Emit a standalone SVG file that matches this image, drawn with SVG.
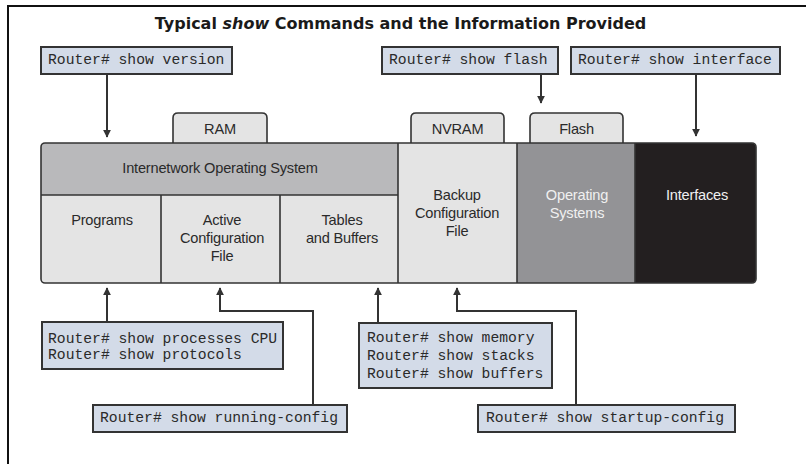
<svg xmlns="http://www.w3.org/2000/svg" width="806" height="464" viewBox="0 0 806 464">
  <style>
    .frame { fill: none; stroke: #111; stroke-width: 2; }
    .title { font-family: "DejaVu Sans", "Liberation Sans", Arial, sans-serif; font-weight: bold; font-size: 16px; fill: #1a1a1a; }
    .cmd { fill: #d3dbe8; stroke: #333; stroke-width: 2; }
    .mono { font-family: "Liberation Mono", "Courier New", monospace; font-size: 14.7px; fill: #2a2a2a; }
    .tab { fill: #e4e4e4; stroke: #333; stroke-width: 1.6; }
    .lbl { font-family: "Liberation Sans", Arial, sans-serif; font-size: 14.6px; fill: #2a2a2a; text-anchor: middle; letter-spacing: -0.2px; }
    .lbl-w { font-family: "Liberation Sans", Arial, sans-serif; font-size: 14.6px; fill: #f0f0f0; text-anchor: middle; letter-spacing: -0.2px; }
    .cell-light { fill: #e4e4e4; }
    .cell-mid { fill: #b9b9bb; }
    .cell-dark { fill: #939396; }
    .cell-black { fill: #231f20; }
    .div { stroke: #333; stroke-width: 1.6; fill: none; }
    .conn { fill: none; stroke: #333; stroke-width: 2; }
  </style>
  <defs>
    <marker id="arrow" viewBox="0 0 10 10" refX="9" refY="5" markerWidth="4" markerHeight="4" orient="auto">
      <path d="M0,0 L10,5 L0,10 Z" fill="#333"/>
    </marker>
  </defs>

  <rect x="0" y="0" width="806" height="464" fill="#ffffff"/>
  <!-- page frame: top and left rules only -->
  <path class="frame" d="M8,464 L8,6 L806,6"/>

  <text class="title" x="400.5" y="29" text-anchor="middle">Typical <tspan font-style="italic">show</tspan> Commands and the Information Provided</text>

  <!-- memory tabs -->
  <g id="tab-ram">
    <path class="tab" d="M173,144 L173,118 Q173,113 178,113 L262,113 Q267,113 267,118 L267,144"/>
    <text class="lbl" x="220" y="134">RAM</text>
  </g>
  <g id="tab-nvram">
    <path class="tab" d="M411,144 L411,118 Q411,113 416,113 L499,113 Q504,113 504,118 L504,144"/>
    <text class="lbl" x="457.5" y="134">NVRAM</text>
  </g>
  <g id="tab-flash">
    <path class="tab" d="M530,144 L530,118 Q530,113 535,113 L618,113 Q623,113 623,118 L623,144"/>
    <text class="lbl" x="576.5" y="134">Flash</text>
  </g>

  <!-- router memory block -->
  <g id="ios">
    <path class="cell-mid" d="M41,147 Q41,143 45,143 L398,143 L398,195 L41,195 Z"/>
    <text class="lbl" x="220" y="173">Internetwork Operating System</text>
  </g>
  <g id="programs">
    <path class="cell-light" d="M41,195 L161,195 L161,283 L45,283 Q41,283 41,279 Z"/>
    <text class="lbl" x="102" y="225">Programs</text>
  </g>
  <g id="active-config">
    <rect class="cell-light" x="161" y="195" width="119" height="88"/>
    <text class="lbl" x="222" y="225">Active</text>
    <text class="lbl" x="222" y="243">Configuration</text>
    <text class="lbl" x="222" y="261">File</text>
  </g>
  <g id="tables-buffers">
    <rect class="cell-light" x="280" y="195" width="118" height="88"/>
    <text class="lbl" x="342" y="225">Tables</text>
    <text class="lbl" x="342" y="243">and Buffers</text>
  </g>
  <g id="backup-config">
    <rect class="cell-light" x="398" y="143" width="119" height="140" fill="#e8e8e8"/>
    <text class="lbl" x="457" y="200">Backup</text>
    <text class="lbl" x="457" y="218">Configuration</text>
    <text class="lbl" x="457" y="236">File</text>
  </g>
  <g id="operating-systems">
    <rect class="cell-dark" x="517" y="143" width="118" height="140"/>
    <text class="lbl-w" x="577" y="200">Operating</text>
    <text class="lbl-w" x="577" y="218">Systems</text>
  </g>
  <g id="interfaces">
    <path class="cell-black" d="M635,143 L751,143 Q756,143 756,148 L756,278 Q756,283 751,283 L635,283 Z"/>
    <text class="lbl-w" x="697" y="200">Interfaces</text>
  </g>
  <!-- block outline and cell dividers -->
  <g id="block-lines">
    <rect class="div" x="41" y="143" width="715" height="140" rx="4" ry="4"/>
    <path class="div" d="M41,195 L398,195 M161,195 L161,283 M280,195 L280,283 M398,143 L398,283 M517,143 L517,283 M635,143 L635,283"/>
  </g>

  <!-- command boxes -->
  <g id="cmd-version">
    <rect class="cmd" x="41" y="47" width="191" height="27"/>
    <text class="mono" x="48" y="64">Router# show version</text>
  </g>
  <g id="cmd-flash">
    <rect class="cmd" x="382" y="47" width="176" height="27"/>
    <text class="mono" x="389" y="64">Router# show flash</text>
  </g>
  <g id="cmd-interface">
    <rect class="cmd" x="571" y="47" width="209" height="27"/>
    <text class="mono" x="578" y="64">Router# show interface</text>
  </g>
  <g id="cmd-processes">
    <rect class="cmd" x="42" y="322" width="241" height="47"/>
    <text class="mono" x="48" y="343">Router# show processes CPU</text>
    <text class="mono" x="48" y="359">Router# show protocols</text>
  </g>
  <g id="cmd-running">
    <rect class="cmd" x="93" y="405" width="254" height="27"/>
    <text class="mono" x="100" y="422">Router# show running-config</text>
  </g>
  <g id="cmd-memory">
    <rect class="cmd" x="359" y="323" width="193" height="65"/>
    <text class="mono" x="367" y="342">Router# show memory</text>
    <text class="mono" x="367" y="360">Router# show stacks</text>
    <text class="mono" x="367" y="378">Router# show buffers</text>
  </g>
  <g id="cmd-startup">
    <rect class="cmd" x="478" y="405" width="257" height="27"/>
    <text class="mono" x="486" y="422">Router# show startup-config</text>
  </g>

  <!-- connectors -->
  <g id="connectors">
    <path class="conn" d="M107,74 L107,137" marker-end="url(#arrow)"/>
    <path class="conn" d="M541,74 L541,103" marker-end="url(#arrow)"/>
    <path class="conn" d="M696,74 L696,136" marker-end="url(#arrow)"/>
    <path class="conn" d="M107,322 L107,288" marker-end="url(#arrow)"/>
    <path class="conn" d="M313,405 L313,311 L220,311 L220,288" marker-end="url(#arrow)"/>
    <path class="conn" d="M378,323 L378,288" marker-end="url(#arrow)"/>
    <path class="conn" d="M576,405 L576,311 L457,311 L457,288" marker-end="url(#arrow)"/>
  </g>
</svg>
